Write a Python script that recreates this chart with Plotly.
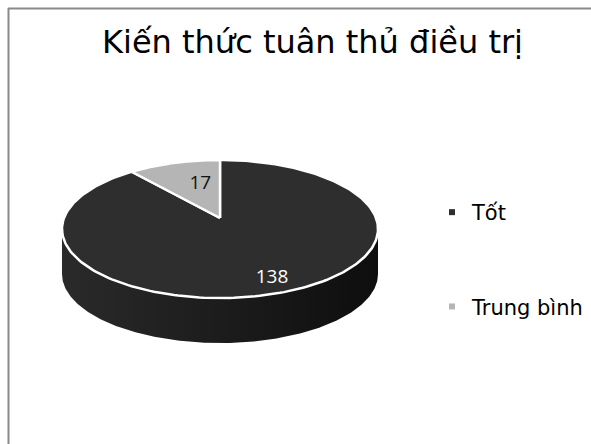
import numpy as np
import plotly.graph_objects as go

# ---- data ----
labels = ["Tốt", "Trung bình"]
values = [138, 17]
title_text = "Kiến thức tuân thủ điều trị"

# ---- style ----
top_colors = ["#2e2e2e", "#b5b5b5"]
text_colors = ["#ffffff", "#111111"]
label_rx = [0.84, 0.43]
label_ry = [0.81, 0.62]
FONT = "DejaVu Sans"
LABEL_FONT = "Open Sans"

W, H = 591, 444
cx, cy = 220.0, 218.0       # projected pie centre (pixels)
a, b, k = 156.0, 67.3, 0.159  # radii and perspective factor
depth = 45.0


def rim(theta_deg):
    """Point on the top rim for an angle measured clockwise from 12 o'clock."""
    t = np.radians(np.asarray(theta_deg, dtype=float))
    d = 1.0 + k * np.cos(t)
    return cx + a * np.sin(t) / d, cy - b * np.cos(t) / d


vals = np.array(values, dtype=float)
frac = vals / vals.sum()
ends = np.cumsum(frac) * 360.0
starts = ends - frac * 360.0

fig = go.Figure()

# side wall (visible front part)
t_side = np.degrees(np.arccos(-k))
th = np.linspace(t_side, 360 - t_side, 240)
x1, y1 = rim(th)
xs = np.concatenate([x1, x1[::-1]])
ys = np.concatenate([y1, (y1 + depth)[::-1]])
fig.add_trace(go.Scatter(
    x=xs, y=ys, fill="toself", mode="lines",
    line=dict(color="rgba(0,0,0,0)", width=0),
    fillgradient=dict(type="horizontal",
                      colorscale=[[0, "#2a2a2a"], [0.5, "#1c1c1c"], [1, "#0e0e0e"]]),
    hoverinfo="skip", showlegend=False))

# top faces
for i, lab in enumerate(labels):
    th = np.linspace(starts[i], ends[i], 240)
    rx, ry = rim(th)
    xs = np.concatenate([[cx], rx, [cx]])
    ys = np.concatenate([[cy], ry, [cy]])
    fig.add_trace(go.Scatter(x=xs, y=ys, fill="toself", mode="lines",
                             line=dict(color="white", width=2.5),
                             fillcolor=top_colors[i], name=lab,
                             hoverinfo="name", showlegend=False))

# data labels
mids = (starts + ends) / 2
mx, my = rim(mids)
lx = cx + np.array(label_rx) * (mx - cx)
ly = cy + np.array(label_ry) * (my - cy)
fig.add_trace(go.Scatter(x=lx, y=ly, mode="text",
                         text=[str(v) for v in values],
                         textfont=dict(family=LABEL_FONT, size=19, color=text_colors),
                         hoverinfo="skip", showlegend=False))

# legend entries
for i, lab in enumerate(labels):
    fig.add_trace(go.Scatter(x=[None], y=[None], mode="markers", name=lab,
                             legendgroup=lab,
                             marker=dict(symbol="square", size=6,
                                         color=top_colors[i])))

# title
fig.add_annotation(x=312, y=42, xref="x", yref="y", text=title_text,
                   showarrow=False,
                   font=dict(family=FONT, size=32, color="#000000"))

# frame
fig.add_shape(type="line", x0=8, x1=W, y0=8.5, y1=8.5, xref="x", yref="y",
              line=dict(color="#8a8a8a", width=2))
fig.add_shape(type="line", x0=8.5, x1=8.5, y0=8, y1=H, xref="x", yref="y",
              line=dict(color="#8a8a8a", width=2))

fig.update_layout(
    width=W, height=H,
    margin=dict(l=0, r=0, t=0, b=0),
    paper_bgcolor="white", plot_bgcolor="white",
    xaxis=dict(range=[0, W], visible=False, fixedrange=True),
    yaxis=dict(range=[H, 0], visible=False, fixedrange=True),
    showlegend=True,
    legend=dict(x=(472 - 40) / W, y=1 - 192 / H, xanchor="left", yanchor="top",
                traceorder="grouped", tracegroupgap=64,
                font=dict(family=FONT, size=21, color="#000000"),
                bgcolor="rgba(0,0,0,0)"),
)

fig.write_html("out.html")
